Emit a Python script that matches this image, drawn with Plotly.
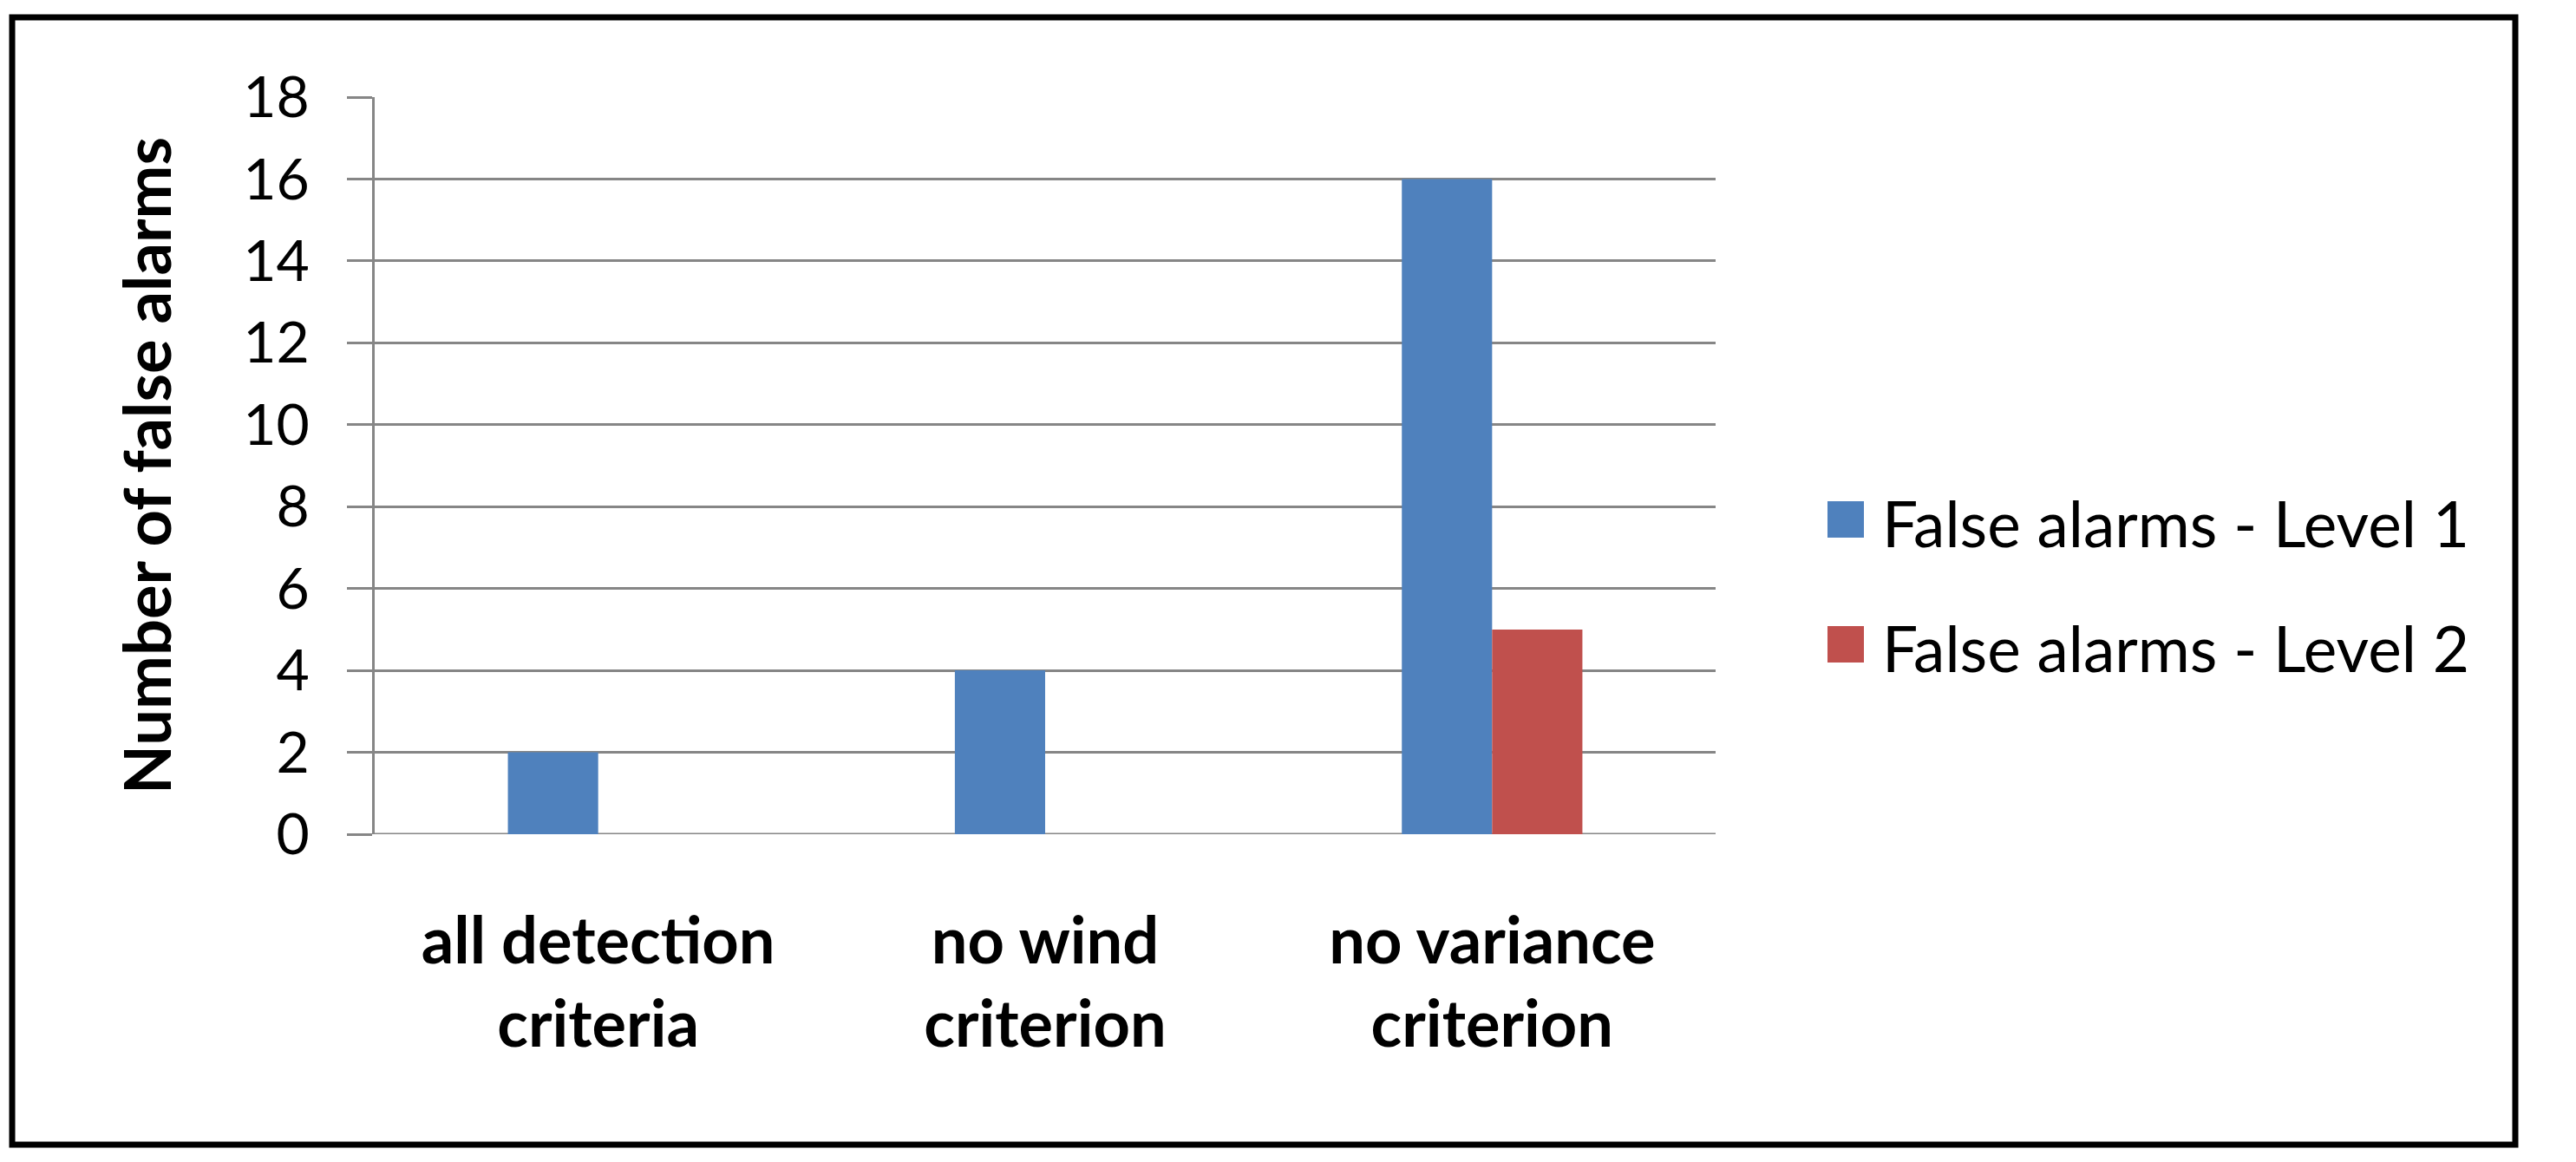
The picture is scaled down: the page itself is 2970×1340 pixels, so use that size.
import plotly.graph_objects as go

# ---- data ----
categories = ["all detection<br>criteria", "no wind<br>criterion", "no variance<br>criterion"]
series_names = ["False alarms - Level 1", "False alarms - Level 2"]
level1 = [2, 4, 16]
level2 = [0, 0, 5]
y_ticks = [0, 2, 4, 6, 8, 10, 12, 14, 16, 18]
y_title = "Number of false alarms"

colors = ["#4F81BD", "#C0504D"]

OFF = 8  # browser body margin
W, H = 2970 - 2 * OFF, 1340 - 2 * OFF
L, R, T, B = 432 - OFF, 1978 - OFF, 112 - OFF, 962 - OFF  # plot area in figure px


def px_x(p):
    return (p - OFF - L) / (R - L)


def px_y(p):
    return (B - (p - OFF)) / (B - T)


FONT = "Lato"
GRID = "#868686"

fig = go.Figure()
for name, vals, col in zip(series_names, [level1, level2], colors):
    fig.add_trace(go.Bar(x=categories, y=vals, name=name, marker=dict(color=col, line=dict(width=0)),
                         showlegend=False))

fig.update_layout(
    width=W, height=H,
    margin=dict(l=L, r=W - R, t=T, b=H - B, pad=0),
    paper_bgcolor="white", plot_bgcolor="white",
    barmode="group", bargap=0.596, bargroupgap=0,
    font=dict(family=FONT, color="black"),
    showlegend=False,
)
fig.update_xaxes(
    showgrid=False, showline=False, zeroline=False, ticks="",
    tickfont=dict(family=FONT, size=74, weight=700, color="black"),
    ticklabelstandoff=74,
)
fig.update_yaxes(
    range=[0, 18], tickvals=y_ticks, showgrid=True, gridcolor=GRID, gridwidth=3,
    showline=True, linecolor=GRID, linewidth=3, zeroline=False,
    ticks="outside", ticklen=29, tickwidth=3, tickcolor=GRID,
    tickfont=dict(family=FONT, size=66, color="black"),
    ticklabelstandoff=30,
    title=dict(text=y_title, font=dict(family=FONT, size=74, weight=700, color="black"), standoff=59),
)

# x-axis baseline (zero gridline)
fig.add_shape(type="line", xref="paper", yref="y", x0=0, x1=1, y0=0, y1=0,
              line=dict(color=GRID, width=3), layer="below")

# outer border
fig.add_shape(type="rect", xref="paper", yref="paper",
              x0=px_x(14), x1=px_x(2900), y0=px_y(20), y1=px_y(1320),
              line=dict(color="black", width=7), fillcolor="rgba(0,0,0,0)")

# custom legend
leg_x0, leg_size = 2107, 42
leg_centers = [599, 743]
for name, col, cy in zip(series_names, colors, leg_centers):
    fig.add_shape(type="rect", xref="paper", yref="paper",
                  x0=px_x(leg_x0), x1=px_x(leg_x0 + leg_size),
                  y0=px_y(cy - leg_size / 2), y1=px_y(cy + leg_size / 2),
                  line=dict(width=0), fillcolor=col)
    fig.add_annotation(xref="paper", yref="paper", x=px_x(2168), y=px_y(cy + 4),
                       xanchor="left", yanchor="middle", showarrow=False,
                       text=name, font=dict(family=FONT, size=73, color="black"))

fig.write_html("out.html")
